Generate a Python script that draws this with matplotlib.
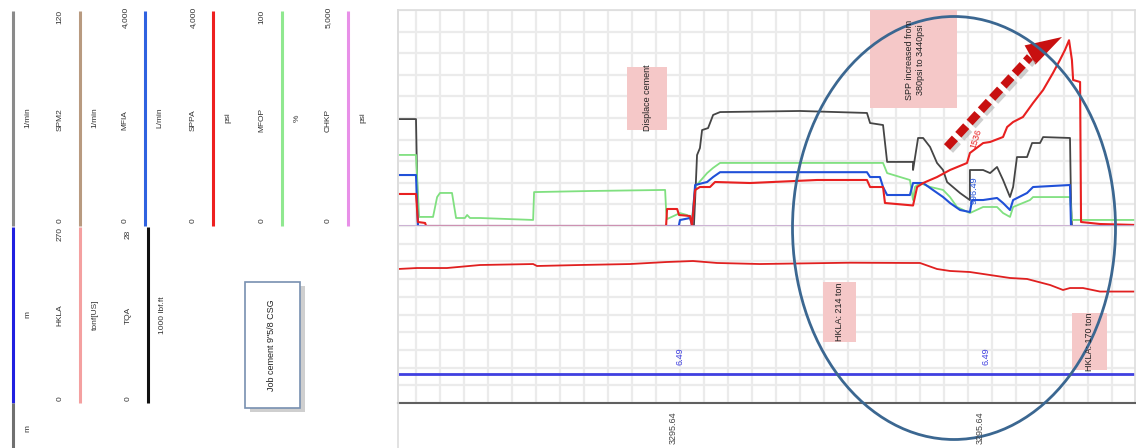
import numpy as np
import matplotlib
matplotlib.use("Agg")
from matplotlib import pyplot as plt
from matplotlib.patches import Ellipse, Rectangle, Polygon

plt.rcParams['font.family'] = ['Liberation Sans Narrow', 'Liberation Sans', 'DejaVu Sans']

# time axis (min) and mud log traces, upper track
spm_t = [0, 0.75, 0.83, 12.33, 12.38, 12.46, 12.58, 12.67, 12.92, 13.13, 13.42, 16.75, 19.54, 19.67,
         20.21, 20.38, 21.46, 21.46, 21.67, 21.88, 22.17, 22.46, 22.71, 22.88, 23.42, 23.83, 23.83,
         24.38, 24.67, 24.96, 25.21, 25.5, 25.63, 25.79, 26.21, 26.42, 26.75, 26.88, 28.0, 28.04,
         28.08, 30.75]
spm = [59.4, 59.4, 0, 0, 14.4, 39.4, 43.3, 53.3, 54.4, 61.7, 63.3, 63.9, 62.8, 57.2,
       56.1, 35.6, 35.6, 31.1, 48.9, 48.9, 43.9, 35.0, 31.1, 24.4, 18.3, 14.4, 31.1,
       31.1, 29.4, 32.8, 25.6, 16.1, 21.7, 38.3, 38.3, 46.1, 46.1, 49.4, 48.9, 14.4,
       0, 0]

mfop_t = [0, 0.75, 0.88, 1.46, 1.63, 1.75, 2.25, 2.42, 2.79, 2.88, 3.0, 3.42, 5.63, 5.67, 8.0,
          11.13, 11.17, 11.21, 11.75, 12.04, 12.25, 12.38, 12.88, 13.13, 13.42, 20.21, 20.38,
          21.33, 21.46, 21.54, 21.75, 22.17, 22.71, 23.0, 23.29, 23.83, 24.38, 24.96, 25.21,
          25.5, 25.63, 26.33, 26.46, 28.0, 28.08, 30.75]
mfop = [32.9, 32.9, 4.2, 4.2, 13.4, 15.3, 15.3, 3.7, 3.7, 5.1, 3.7, 3.7, 2.8, 15.7, 16.2,
        16.7, 7.4, 3.2, 6.0, 5.1, 2.8, 18.1, 24.5, 26.9, 29.2, 29.2, 24.5,
        21.3, 12.0, 18.1, 19.9, 18.1, 16.7, 13.4, 8.8, 6.0, 8.8, 8.8, 6.0,
        4.2, 8.8, 12.0, 13.4, 13.4, 2.8, 2.8]

mfia_t = [0, 0.75, 0.83, 11.7, 11.75, 12.17, 12.25, 12.38, 12.88, 13.13, 13.42, 19.54, 19.67,
          20.08, 20.21, 20.38, 21.33, 21.46, 21.88, 22.29, 22.71, 23.0, 23.42, 23.83, 23.92,
          24.38, 24.96, 25.21, 25.5, 25.63, 26.21, 26.46, 28.0, 28.04, 28.08, 30.75]
mfia = [944, 944, 0, 0, 111, 148, 19, 759, 815, 907, 996.49, 996.49, 907,
        907, 722, 574, 574, 796, 796, 667, 537, 426, 296, 259, 481,
        481, 519, 426, 296, 481, 611, 722, 759, 19, 0, 0]

sppa_t = [0, 0.75, 0.83, 1.13, 1.17, 11.17, 11.21, 11.63, 11.71, 12.17, 12.25, 12.38, 12.58, 13.0,
          13.21, 14.67, 17.46, 19.54, 19.67, 20.21, 20.29, 21.46, 21.63, 21.88, 22.46, 23.0,
          23.71, 23.83, 24.38, 24.67, 25.21, 25.38, 25.63, 26.04, 26.46, 26.88, 27.29, 27.58,
          27.79, 27.96, 28.08, 28.13, 28.42, 28.46, 29.25, 30.75]
sppa = [593, 593, 74, 56, 0, 0, 315, 315, 204, 185, 0, 667, 722, 722,
        815, 796, 852, 852, 722, 722, 426, 380, 722, 796, 907, 1037,
        1167, 1352, 1536, 1556, 1648, 1833, 1926, 2019, 2278, 2519, 2833, 3074,
        3259, 3440, 3074, 2704, 2667, 74, 37, 19]

chkp_t = [0, 30.75]
chkp = [0, 0]

# lower track
hkla_t = [0, 0.79, 2.04, 3.42, 5.63, 5.79, 7.58, 9.67, 11.21, 12.29, 13.29, 15.08, 18.83, 21.33,
          21.75, 22.46, 23.0, 23.83, 25.5, 26.21, 27.17, 27.71, 28.0, 28.54, 29.25, 30.75]
hkla = [204.4, 205.9, 205.9, 210.5, 212.0, 209.0, 210.5, 212.0, 215.1, 216.6, 213.6, 212.0, 214.0,
        213.6, 213.6, 204.4, 201.4, 199.8, 190.7, 189.2, 180.0, 172.4, 175.4, 175.4, 170.0, 170.0]
bit_t = [0, 30.75]
bit_depth = [6.49, 6.49]

depth_labels = ["3295.64", "3295.64"]

W, H = 1136, 448
fig = plt.figure(figsize=(W / 100, H / 100), dpi=100)


def box(x0, y0, x1, y1):
    return [x0 / W, 1 - y1 / H, (x1 - x0) / W, (y1 - y0) / H]


ax_top = fig.add_axes(box(398, 10, 1135, 226))
ax_bot = fig.add_axes(box(398, 226, 1135, 403))

for ax in (ax_top, ax_bot):
    ax.set_xlim(0, 737 / 24)
    ax.set_ylim(0, 1)
    ax.set_xticks(0.75 + np.arange(30))
    ax.set_yticks(np.linspace(0, 1, 11))
    ax.grid(True, color='#ebebeb', lw=1.6)
    ax.tick_params(length=0, labelbottom=False, labelleft=False)
    ax.set_axisbelow(True)
    for s in ax.spines.values():
        s.set_color('#dddddd')
        s.set_linewidth(1.2)

ax_top.spines['bottom'].set_visible(False)
ax_bot.spines['top'].set_visible(False)
ax_bot.spines['bottom'].set_color('#606060')
ax_bot.spines['bottom'].set_linewidth(1.5)

ax_top.plot(spm_t, np.array(spm) / 120, color='#454545', lw=1.3)
ax_top.plot(mfop_t, np.array(mfop) / 100, color='#80e080', lw=1.3)
ax_top.plot(mfia_t, np.array(mfia) / 4000, color='#2050d8', lw=1.5)
ax_top.plot(sppa_t, np.array(sppa) / 4000, color='#e82020', lw=1.5)
ax_top.plot(chkp_t, np.array(chkp) / 5000, color='#c8a8d0', lw=1.2)

ax_bot.plot(hkla_t, np.array(hkla) / 270, color='#e02020', lw=1.3)
ax_bot.plot(bit_t, np.array(bit_depth) / 40, color='#4040e0', lw=2)

# value tags on the curves
ax_top.text(24.1, 1536 / 4000 + 0.02, "1536", color='#e82020', fontsize=6.5, rotation=72,
            ha='center', va='center')
ax_top.text(24.0, 0.165, f"{mfia[10]:.2f}", color='#2050d8', fontsize=6.5, rotation=90,
            ha='center', va='center')
for xv in (11.75, 24.5):
    ax_bot.text(xv, bit_depth[0] / 40 + 0.1, f"{bit_depth[0]:.2f}", color='#4040e0', fontsize=6.5,
                rotation=90, ha='center', va='center')

# overlay in pixel coordinates for headers and notes
ov = fig.add_axes([0, 0, 1, 1])
ov.set_xlim(0, W)
ov.set_ylim(H, 0)
ov.axis('off')
ov.patch.set_alpha(0)

ov.plot([398, 398], [10, 448], color='#dddddd', lw=1.2)

fs = 6
tc = '#333333'
# upper track headers: (line x, colour, name, max, unit)
top_heads = [(13, '#8a8a8a', None, None, '1/min'),
             (80, '#b89a80', 'SPM2', '120', '1/min'),
             (145, '#2f62e0', 'MFIA', '4,000', 'L/min'),
             (213, '#ee2020', 'SPPA', '4,000', 'psi'),
             (282, '#90e890', 'MFOP', '100', '%'),
             (348, '#e890e8', 'CHKP', '5,000', 'psi')]
for x, c, name, mx, unit in top_heads:
    ov.plot([x, x], [11, 226], color=c, lw=2.2, solid_capstyle='butt')
    ov.text(x + 15, 118, unit, fontsize=fs, rotation=90, ha='center', va='center', color=tc)
    if name:
        ov.text(x - 20, 120, name, fontsize=fs, rotation=90, ha='center', va='center', color=tc)
        ov.text(x - 20, 17, mx, fontsize=fs, rotation=90, ha='center', va='center', color=tc)
        ov.text(x - 20, 221, '0', fontsize=fs, rotation=90, ha='center', va='center', color=tc)

bot_heads = [(13, '#2020e0', None, None, 'm'),
             (80, '#f4a0a0', 'HKLA', '270', 'tonf[US]'),
             (148, '#111111', 'TQA', '28', '1000 lbf.ft')]
for x, c, name, mx, unit in bot_heads:
    ov.plot([x, x], [227, 403], color=c, lw=2.2, solid_capstyle='butt')
    ov.text(x + 15, 315, unit, fontsize=fs, rotation=90, ha='center', va='center', color=tc)
    if name:
        ov.text(x - 20, 315, name, fontsize=fs, rotation=90, ha='center', va='center', color=tc)
        ov.text(x - 20, 234, mx, fontsize=fs, rotation=90, ha='center', va='center', color=tc)
        ov.text(x - 20, 399, '0', fontsize=fs, rotation=90, ha='center', va='center', color=tc)
ov.plot([13, 13], [403, 448], color='#707070', lw=2.2, solid_capstyle='butt')
ov.text(28, 428, 'm', fontsize=fs, rotation=90, ha='center', va='center', color=tc)

# job title box
ov.add_patch(Rectangle((250, 286), 55, 126, facecolor='#b0b0b0', edgecolor='none', alpha=0.6))
ov.add_patch(Rectangle((245, 282), 55, 126, facecolor='white', edgecolor='#7890b0', lw=1.2))
ov.text(272, 345, 'Job cement 9"5/8 CSG', fontsize=6.5, rotation=90, ha='center', va='center',
        color='#222222')

# depth labels under the tracks
for xp, lab in zip((673, 980), depth_labels):
    ov.text(xp, 428, lab, fontsize=6.5, rotation=90, ha='center', va='center', color='#444444')

# pink notes
notes = [((627, 67, 667, 130), 'Displace cement', (647, 98)),
         ((870, 10, 957, 108), 'SPP increased from\n380psi to 3440psi', (915, 60)),
         ((823, 282, 856, 342), 'HKLA: 214 ton', (840, 312)),
         ((1072, 313, 1107, 370), 'HKLA: 170 ton', (1089, 342))]
for (x0, y0, x1, y1), txt, (cx, cy) in notes:
    ov.add_patch(Rectangle((x0, y0), x1 - x0, y1 - y0, facecolor='#f5c8c8', edgecolor='none'))
    ov.text(cx, cy, txt, fontsize=6.5, rotation=90, ha='center', va='center', color='#222222',
            linespacing=1.3)

# dashed arrow towards the pressure peak
ov.plot([950, 1033], [150, 60], color='#b0b0b0', lw=6, ls=(0, (1.4, 0.6)), alpha=0.6)
ov.plot([947, 1030], [147, 57], color='#c81010', lw=6, ls=(0, (1.4, 0.6)))
tip = np.array([1062, 37])
base = np.array([1030, 55])
d = (tip - base) / np.hypot(*(tip - base))
nrm = np.array([-d[1], d[0]])
ov.add_patch(Polygon([tip, base + 11 * nrm, base - 11 * nrm], closed=True, facecolor='#c81010',
                     edgecolor='none'))

ov.add_patch(Ellipse((954, 228), 323, 423, facecolor='none', edgecolor='#3b6791', lw=2))

fig.savefig('out.png', dpi=100)
